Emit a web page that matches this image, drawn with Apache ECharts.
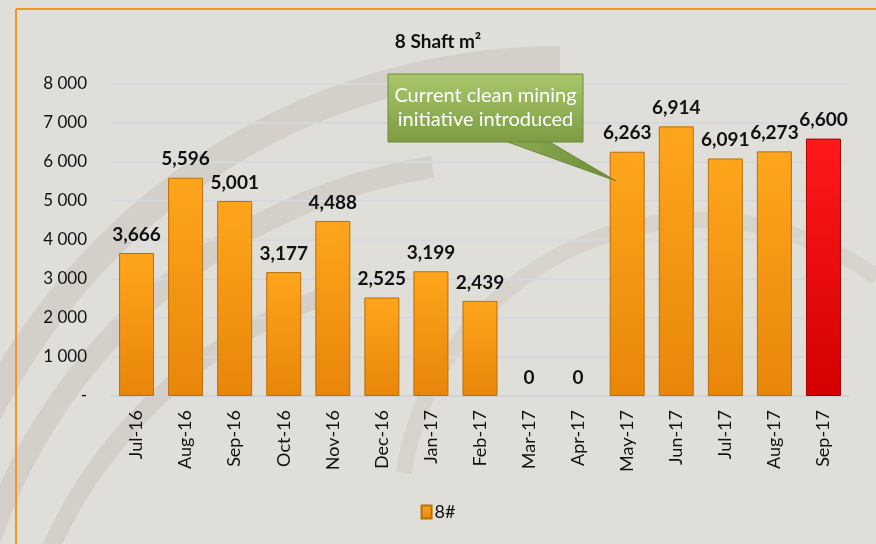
<!DOCTYPE html>
<html>
<head>
<meta charset="utf-8">
<script src="https://cdn.jsdelivr.net/npm/echarts@6/dist/echarts.min.js"></script>
<style>
  html, body { margin: 0; padding: 0; background: #e0ded9; }
  #main { width: 876px; height: 544px; }
</style>
</head>
<body>
<div id="main"></div>
<script>
var months = ['Jul-16', 'Aug-16', 'Sep-16', 'Oct-16', 'Nov-16', 'Dec-16', 'Jan-17', 'Feb-17',
  'Mar-17', 'Apr-17', 'May-17', 'Jun-17', 'Jul-17', 'Aug-17', 'Sep-17'];
var shaft8 = [3666, 5596, 5001, 3177, 4488, 2525, 3199, 2439, 0, 0, 6263, 6914, 6091, 6273, 6600];
var yTicks = [0, 1000, 2000, 3000, 4000, 5000, 6000, 7000, 8000];
var highlightIndex = 14; // current month in red

var chartDom = document.getElementById('main');
var myChart = echarts.init(chartDom);

var orange = new echarts.graphic.LinearGradient(0, 0, 0, 1, [
  { offset: 0, color: '#ffa51c' },
  { offset: 1, color: '#e8860a' }
]);
var red = new echarts.graphic.LinearGradient(0, 0, 0, 1, [
  { offset: 0, color: '#ff1a1a' },
  { offset: 1, color: '#d40000' }
]);

var barData = shaft8.map(function (v, i) {
  var st = i === highlightIndex
    ? { color: red, borderColor: '#a80000', borderWidth: 1 }
    : { color: orange, borderColor: '#b8700a', borderWidth: 1 };
  if (v === 0) st.borderWidth = 0; // nothing drawn for empty months
  return { value: v, itemStyle: st };
});

function fmtAxis(v) {
  if (v === 0) return '-';
  return String(v).replace(/\B(?=(\d{3})+(?!\d))/g, ' ');
}

var option = {
  backgroundColor: '#e0ded9',
  title: {
    text: '8 Shaft m²',
    left: 'center',
    top: 27,
    textStyle: { fontFamily: 'Lato', fontSize: 19, fontWeight: 'bold', color: '#111' }
  },
  legend: {
    bottom: 18,
    left: 'center',
    itemWidth: 10,
    itemHeight: 13,
    itemGap: 4,
    icon: 'rect',
    textStyle: { fontFamily: 'Lato', fontSize: 18, color: '#111', padding: [0, 0, 0, -2] },
    data: ['8#']
  },
  grid: { left: 112, right: 28, top: 84, bottom: 148 },
  xAxis: {
    type: 'category',
    data: months,
    axisTick: { show: false },
    axisLine: { show: true, lineStyle: { color: '#cfd2d6', width: 2 } },
    axisLabel: {
      rotate: 90,
      margin: 14,
      interval: 0,
      fontFamily: 'Lato',
      fontSize: 18,
      color: '#111'
    }
  },
  yAxis: {
    type: 'value',
    min: yTicks[0],
    max: yTicks[yTicks.length - 1],
    interval: 1000,
    axisLine: { show: false },
    axisTick: { show: false },
    splitLine: { lineStyle: { color: '#d5d8dc', width: 2 } },
    axisLabel: {
      margin: 25,
      fontFamily: 'Lato',
      fontSize: 17,
      color: '#111',
      formatter: fmtAxis
    }
  },
  series: [{
    name: '8#',
    type: 'bar',
    barWidth: 35,
    data: barData,
    itemStyle: { color: orange, borderColor: '#b8700a', borderWidth: 1 },
    label: {
      show: true,
      position: 'top',
      distance: 9,
      fontFamily: 'Lato',
      fontSize: 19,
      fontWeight: 'bold',
      color: '#111',
      formatter: function (p) {
        return p.value.toLocaleString('en-US');
      }
    }
  }],
  graphic: [
    // watermark swirls
    { type: 'arc', silent: true, z: -10, shape: { cx: 560, cy: 700, r: 640, startAngle: Math.PI * 1.12, endAngle: Math.PI * 1.5 },
      style: { fill: null, stroke: '#d4d0c9', lineWidth: 28 } },
    { type: 'arc', silent: true, z: -10, shape: { cx: 520, cy: 720, r: 560, startAngle: Math.PI * 1.1, endAngle: Math.PI * 1.45 },
      style: { fill: null, stroke: '#d4d0c9', lineWidth: 22 } },
    { type: 'arc', silent: true, z: -10, shape: { cx: 480, cy: 740, r: 470, startAngle: Math.PI * 1.08, endAngle: Math.PI * 1.4 },
      style: { fill: null, stroke: '#d4d0c9', lineWidth: 18 } },
    { type: 'arc', silent: true, z: -10, shape: { cx: 700, cy: 520, r: 300, startAngle: Math.PI * 1.05, endAngle: Math.PI * 1.7 },
      style: { fill: null, stroke: '#d7d3cc', lineWidth: 16 } },
    // orange frame
    { type: 'line', silent: true, shape: { x1: 16, y1: 9, x2: 876, y2: 9 }, style: { stroke: '#f7941d', lineWidth: 2 } },
    { type: 'line', silent: true, shape: { x1: 16, y1: 9, x2: 16, y2: 544 }, style: { stroke: '#f7941d', lineWidth: 2 } },
    // callout
    { type: 'polygon', z: 100, shape: { points: [[505, 141], [548, 141], [616, 181]] },
      style: { fill: new echarts.graphic.LinearGradient(0, 0, 1, 1, [
        { offset: 0, color: '#8dab52' }, { offset: 1, color: '#6e8c38' }]), stroke: '#6f8a3c', lineWidth: 1 } },
    { type: 'rect', z: 101, shape: { x: 388, y: 74, width: 195, height: 68 },
      style: { fill: new echarts.graphic.LinearGradient(0, 0, 0, 1, [
        { offset: 0, color: '#a9c76b' }, { offset: 1, color: '#7d9c42' }]), stroke: '#6f8a3c', lineWidth: 1 } },
    { type: 'text', z: 102, x: 485.5, y: 108,
      style: { text: 'Current clean mining\ninitiative introduced', fill: '#fff', fontFamily: 'Lato',
        fontSize: 20, lineHeight: 24, align: 'center', verticalAlign: 'middle' } }
  ]
};

window.addEventListener('resize', function () { myChart.resize(); });
option && myChart.setOption(option);
</script>
</body>
</html>
